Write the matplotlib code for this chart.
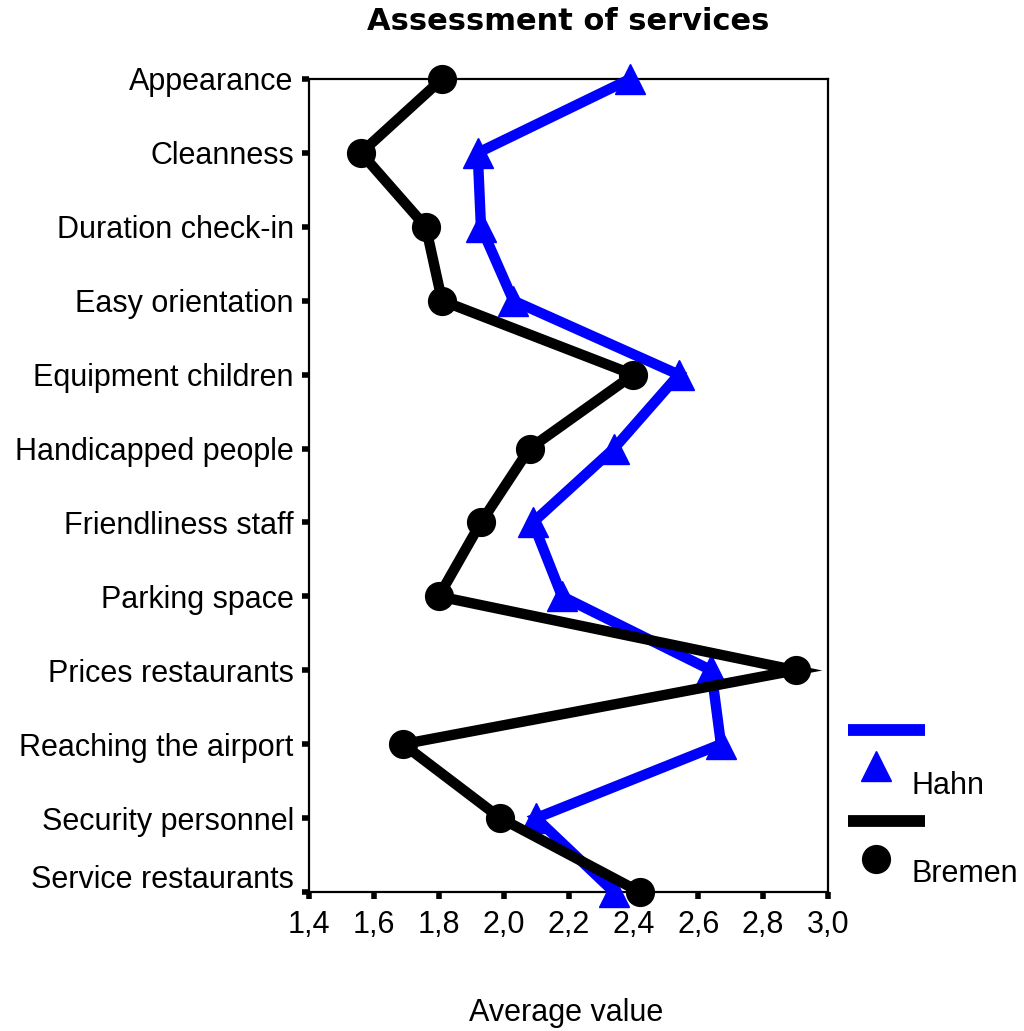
import numpy as np
from matplotlib import pyplot as plt
from matplotlib.lines import Line2D
from matplotlib.ticker import FuncFormatter
import matplotlib.transforms as mtransforms

plt.rcParams["font.family"] = ["Liberation Sans", "DejaVu Sans"]

categories = [
    "Appearance",
    "Cleanness",
    "Duration check-in",
    "Easy orientation",
    "Equipment children",
    "Handicapped people",
    "Friendliness staff",
    "Parking space",
    "Prices restaurants",
    "Reaching the airport",
    "Security personnel",
    "Service restaurants",
]
hahn = [2.39, 1.92, 1.93, 2.03, 2.54, 2.34, 2.09, 2.18, 2.64, 2.67, 2.10, 2.34]
bremen = [1.81, 1.56, 1.76, 1.81, 2.40, 2.08, 1.93, 1.80, 2.90, 1.69, 1.99, 2.42]
x_ticks = [1.4, 1.6, 1.8, 2.0, 2.2, 2.4, 2.6, 2.8, 3.0]

fig = plt.figure(figsize=(10.24, 10.31), dpi=100)
ax = fig.add_axes([0.3018, 0.1348, 0.5068, 0.7886])

y = np.arange(len(categories))
ax.plot(hahn, y, color="#0000ff", lw=7.5, marker="^", ms=22,
        solid_joinstyle="miter", clip_on=False, zorder=3)
ax.plot(bremen, y, color="black", lw=7.5, marker="o", ms=20,
        solid_joinstyle="miter", clip_on=False, zorder=4)

ax.set_xlim(1.4, 3.0)
ax.set_ylim(len(categories) - 1, 0)
ax.set_yticks(y)
ax.set_yticklabels(categories)
ax.set_xticks(x_ticks)
ax.xaxis.set_major_formatter(FuncFormatter(lambda v, p: ("%.1f" % v).replace(".", ",")))
ax.tick_params(axis="both", direction="out", length=5, width=4, labelsize=22)
ax.tick_params(axis="y", pad=6)
ax.tick_params(axis="x", pad=8)
for s in ax.spines.values():
    s.set_linewidth(1.6)

# last category label sits a bit higher, clear of the x tick labels
last = ax.get_yticklabels()[-1]
last.set_transform(last.get_transform() + mtransforms.ScaledTranslation(0, 0.16, fig.dpi_scale_trans))

fig.text(0.555, 1 - 21 / 1031, "Assessment of services", ha="center", va="center",
         fontsize=22, fontweight="heavy", family="DejaVu Sans")
fig.text(0.553, 0.003, "Average value", ha="center", va="bottom", fontsize=22)

# SPSS style legend
fig.add_artist(Line2D([848 / 1024, 925 / 1024], [1 - 730 / 1031] * 2,
                      color="#0000ff", lw=8.5, solid_capstyle="butt"))
fig.add_artist(Line2D([876 / 1024], [1 - 766 / 1031], color="#0000ff",
                      marker="^", ms=22, lw=0))
fig.text(912 / 1024, 1 - 786 / 1031, "Hahn", fontsize=22, va="center")
fig.add_artist(Line2D([848 / 1024, 925 / 1024], [1 - 821 / 1031] * 2,
                      color="black", lw=8.5, solid_capstyle="butt"))
fig.add_artist(Line2D([876 / 1024], [1 - 859 / 1031], color="black",
                      marker="o", ms=20, lw=0))
fig.text(912 / 1024, 1 - 874 / 1031, "Bremen", fontsize=22, va="center")

fig.savefig("out.png", dpi=100)
